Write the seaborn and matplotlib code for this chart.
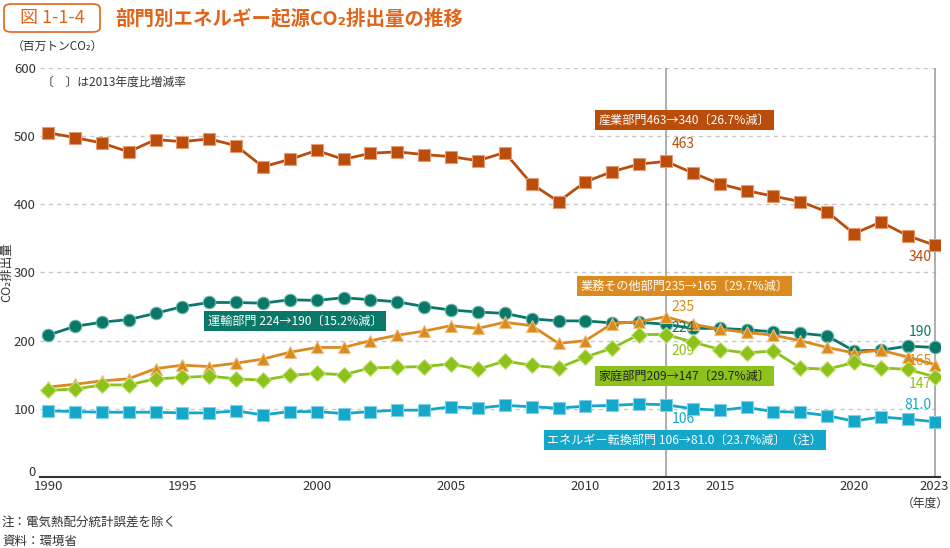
import numpy as np
import pandas as pd
import seaborn as sns
import matplotlib.pyplot as plt
import matplotlib.transforms as mtransforms
from matplotlib.patches import FancyBboxPatch

# Jahre 1990-2023
jahre = list(range(1990, 2024))

# CO2-Emissionen je Sektor (Mio. t)
industrie = [505, 498, 490, 477, 495, 492, 496, 486, 455, 466, 479, 466, 475, 477, 473, 470, 464,
             476, 430, 404, 433, 448, 459, 463, 446, 430, 420, 412, 404, 389, 357, 374, 354, 340]
verkehr = [208, 221, 227, 231, 240, 250, 256, 256, 255, 260, 259, 263, 260, 257, 250, 245, 242,
           240, 232, 229, 229, 226, 227, 224, 218, 218, 216, 213, 211, 207, 185, 186, 192, 190]
gewerbe = [132, 136, 141, 144, 159, 164, 162, 167, 173, 183, 190, 190, 200, 208, 214, 222, 218,
           227, 222, 196, 200, 225, 228, 235, 224, 217, 212, 208, 200, 190, 182, 186, 176, 165]
haushalte = [127, 129, 135, 135, 144, 146, 148, 144, 142, 149, 152, 150, 160, 161, 162, 166, 158,
             170, 164, 160, 176, 189, 209, 209, 198, 187, 182, 185, 160, 158, 168, 160, 158, 147]
energie = [97, 96, 95, 95, 95, 94, 94, 97, 91, 96, 96, 93, 96, 98, 98, 103, 101,
           105, 103, 101, 104, 105, 107, 106, 100, 98, 102, 96, 95, 90, 82, 88, 85, 81.0]

sektoren = ["産業部門", "運輸部門", "業務その他部門", "家庭部門", "エネルギー転換部門"]
reihen = [industrie, verkehr, gewerbe, haushalte, energie]
farben = ["#BA4C0C", "#0A7868", "#DA8A1F", "#8CC21A", "#14A7C9"]
kanten = ["#E89A70", "#6FB7AB", "#F0BE7A", "#C4E27A", "#7FD0E4"]
marker = ["s", "o", "^", "D", "s"]
groessen = [9, 9, 9, 8, 9]

boxtexte = ["産業部門463→340〔26.7%減〕", "運輸部門 224→190〔15.2%減〕",
            "業務その他部門235→165〔29.7%減〕", "家庭部門209→147〔29.7%減〕",
            "エネルギー転換部門 106→81.0〔23.7%減〕（注）"]
boxpos = [(2013.7, 524), (1999.2, 229), (2013.7, 280), (2013.7, 148), (2013.7, 54)]
boxtextfarbe = ["white", "white", "white", "#222222", "white"]

wert2013 = ["463", "224", "235", "209", "106"]
pos2013 = [488, 219, 250, 185, 85]
wert2023 = ["340", "190", "165", "147", "81.0"]
pos2023 = [322, 213, 170, 137, 106]

sns.set_style("white")
plt.rcParams["font.family"] = ["Noto Sans CJK JP", "DejaVu Sans"]

fig = plt.figure(figsize=(9.5, 5.48), dpi=100)
ax = fig.add_axes([40 / 950, 0.1296, 900 / 950, 0.7463])

# Gitterlinien und senkrechte Linien
for y in range(100, 700, 100):
    ax.axhline(y, color="#C8C8C8", lw=1, ls=(0, (3, 3)), zorder=0)
for x in [2013, 2023]:
    ax.axvline(x, color="#A0A0A0", lw=1.2, zorder=1)

for name, werte, f, k, m, s in zip(sektoren, reihen, farben, kanten, marker, groessen):
    df = pd.DataFrame({"jahr": jahre, "wert": werte})
    sns.lineplot(data=df, x="jahr", y="wert", ax=ax, color=f, lw=2, marker=m,
                 markersize=s, markeredgecolor=k, markeredgewidth=0.8, zorder=3)

# Beschriftungsboxen
for txt, (bx, by), f, tf in zip(boxtexte, boxpos, farben, boxtextfarbe):
    ax.text(bx, by, txt, ha="center", va="center", fontsize=8.7, color=tf, zorder=5,
            bbox=dict(boxstyle="square,pad=0.3", fc=f, ec="none"))

for txt, y, f in zip(wert2013, pos2013, farben):
    ax.text(2013.2, y, txt, ha="left", va="center", fontsize=10, color=f, zorder=6)
for txt, y, f in zip(wert2023, pos2023, farben):
    ax.text(2022.9, y, txt, ha="right", va="center", fontsize=10, color=f, zorder=6)

ax.set_xlim(1989.7, 2023.2)
ax.set_ylim(0, 600)
ax.set_yticks(range(0, 700, 100))
ax.set_xticks([1990, 1995, 2000, 2005, 2010, 2013, 2015, 2020, 2023])
ax.set_xticks(jahre, minor=True)
ax.tick_params(axis="x", which="both", direction="in", length=5, width=0.8, color="#555555",
               labelsize=9.5, pad=2)
ax.tick_params(axis="y", length=0, labelsize=9.5, pad=3)
for lab in ax.get_xticklabels() + ax.get_yticklabels():
    lab.set_color("#333333")
# "0" etwas nach oben, damit es nicht auf "1990" liegt
null_lab = ax.get_yticklabels()[0]
null_lab.set_transform(null_lab.get_transform() +
                       mtransforms.ScaledTranslation(0, 4 / 72, fig.dpi_scale_trans))
for sp in ["top", "right", "left"]:
    ax.spines[sp].set_visible(False)
ax.spines["bottom"].set_color("#333333")
ax.spines["bottom"].set_linewidth(1.5)
ax.set_xlabel("")
ax.set_ylabel("")

# Titel
fig.patches.append(FancyBboxPatch((4 / 950, 1 - 32 / 548), 96 / 950, 28 / 548,
                                  boxstyle="round,pad=0,rounding_size=0.008",
                                  transform=fig.transFigure, fc="white", ec="#E0651A", lw=1.2))
fig.text(52 / 950, 1 - 18 / 548, "図 1-1-4", ha="center", va="center", fontsize=13,
         color="#E0651A")
fig.text(115 / 950, 1 - 18 / 548, "部門別エネルギー起源CO₂排出量の推移", ha="left", va="center",
         fontsize=14, color="#E0651A", fontweight="bold")

fig.text(12 / 950, 1 - 46 / 548, "（百万トンCO₂）", ha="left", va="center", fontsize=8.5,
         color="#333333")
fig.text(42 / 950, 1 - 82 / 548, "〔　〕は2013年度比増減率", ha="left", va="center", fontsize=8.5,
         color="#333333")
fig.text(7 / 950, 1 - 272 / 548, "CO₂排出量", ha="center", va="center", rotation=90,
         fontsize=9, color="#333333")
fig.text(949 / 950, 1 - 503 / 548, "（年度）", ha="right", va="center", fontsize=8.5,
         color="#333333")
fig.text(2 / 950, 1 - 522 / 548, "注：電気熱配分統計誤差を除く", ha="left", va="center",
         fontsize=9, color="#333333")
fig.text(2 / 950, 1 - 541 / 548, "資料：環境省", ha="left", va="center", fontsize=9,
         color="#333333")

fig.savefig("out.png", dpi=100)
